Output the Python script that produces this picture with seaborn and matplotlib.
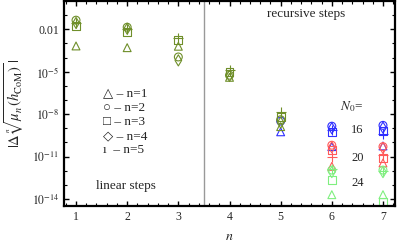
import numpy as np
import pandas as pd
import matplotlib
matplotlib.use("Agg")
import matplotlib.pyplot as plt
import matplotlib.ticker as mticker
import seaborn as sns

# ---- data ----
x_lin = [1, 2, 3, 4, 5]
all_n1 = [6.6e-4, 5.0e-4, 6.3e-4, 4.0e-6, 1.3e-9]
all_n2 = [4.4e-2, 1.4e-2, 1.1e-4, 5.6e-6, 4.0e-9]
all_n3 = [1.6e-2, 6.5e-3, 1.7e-3, 9.3e-6, 6.3e-9]
all_n4 = [2.8e-2, 1.1e-2, 6.3e-5, 5.0e-6, 2.5e-9]
all_n5 = [2.8e-2, 1.0e-2, 2.5e-3, 1.3e-5, 1.3e-8]

x_rec = [5, 6, 7]
n16_n1 = [5.6e-10, 5.0e-11, 5.6e-11]
n16_n2 = [3.2e-9, 1.4e-9, 1.6e-9]
n16_n3 = [np.nan, 5.6e-10, 6.3e-10]
n16_n4 = [np.nan, 1.0e-9, 1.1e-9]
n16_n5 = [np.nan, 7.1e-10, 4.0e-10]

x_rec2 = [6, 7]
n20_n1 = [2.0e-12, 3.5e-12]
n20_n2 = [6.3e-11, 5.0e-11]
n20_n3 = [2.8e-11, 7.9e-12]
n20_n4 = [4.5e-11, 4.0e-11]
n20_n5 = [1.0e-11, 1.3e-11]

n24_n1 = [2.0e-14, 2.0e-14]
n24_n2 = [1.1e-12, 1.1e-12]
n24_n3 = [2.2e-13, 6.3e-15]
n24_n4 = [7.9e-13, 7.9e-13]
n24_n5 = [1.3e-12, 1.0e-12]

ytick_vals = [1e-2, 1e-5, 1e-8, 1e-11, 1e-14]
ytick_labels = ["0.01", r"$10^{-5}$", r"$10^{-8}$", r"$10^{-11}$", r"$10^{-14}$"]
n0_labels = ["16", "20", "24"]

# ---- build table ----
rows = []
def add(xs, groups, g):
    for k, vals in enumerate(groups, start=1):
        for xv, v in zip(xs, vals):
            if not np.isnan(v):
                rows.append(dict(x=xv, val=v, n=f"n={k}", grp=g))

add(x_rec, [n16_n1, n16_n2, n16_n3, n16_n4, n16_n5], "16")
add(x_rec2, [n20_n1, n20_n2, n20_n3, n20_n4, n20_n5], "20")
add(x_rec2, [n24_n1, n24_n2, n24_n3, n24_n4, n24_n5], "24")
add(x_lin, [all_n1, all_n2, all_n3, all_n4, all_n5], "all")
df = pd.DataFrame(rows)

palette = {"16": "#2f2fff", "20": "#ff5a5a", "24": "#7fef7f", "all": "#6f8f2a"}
markers = {"n=1": "^", "n=2": "o", "n=3": "s", "n=4": "d"}

sns.set_style("ticks")
plt.rcParams["font.family"] = ["Liberation Serif", "DejaVu Serif"]
plt.rcParams["mathtext.fontset"] = "stix"

fig = plt.figure(figsize=(3.99, 2.45), dpi=100)
ax = fig.add_axes([64/399, 1-206/245, (395-64)/399, (206-1)/245])

filled = df[df["n"] != "n=5"]
lines = df[df["n"] == "n=5"]
order = ["16", "20", "24", "all"]
for g in order:
    sub = filled[filled["grp"] == g]
    sns.scatterplot(data=sub, x="x", y="val", style="n", markers=markers,
                    color=palette[g], s=32, legend=False, ax=ax, linewidth=0.8)
    coll = ax.collections[-1]
    fc = coll.get_facecolors()
    coll.set_edgecolors(fc)
    coll.set_facecolors("none")
    subl = lines[lines["grp"] == g]
    sns.scatterplot(data=subl, x="x", y="val", marker="+", color=palette[g],
                    s=45, legend=False, ax=ax, linewidth=0.8)

ax.set_yscale("log")
ax.set_xlim(0.765, 7.235)
ax.set_ylim(10**-14.5, 1.0)
ax.axvline(3.5, color="#999999", lw=1.0)

ax.set_xticks(range(1, 8))
ax.xaxis.set_minor_locator(mticker.MultipleLocator(0.2))
ax.set_yticks(ytick_vals)
ax.set_yticklabels(ytick_labels)
ax.yaxis.set_minor_locator(mticker.LogLocator(base=10, subs=[1.0], numticks=30))
ax.yaxis.set_minor_formatter(mticker.NullFormatter())
ax.tick_params(which="both", direction="in", top=True, right=True, labelsize=8.5, color="black")
ax.tick_params(which="major", length=3.5, width=1.0)
ax.tick_params(which="minor", length=2, width=0.8)
for sp in ax.spines.values():
    sp.set_linewidth(1.6)
    sp.set_color("black")

ax.set_xlabel(r"$n$", fontsize=10, labelpad=5)
ax.set_ylabel(r"$|\Delta\,\sqrt[n]{\mu_n\,(h_{\rm CoM})}\,|$", fontsize=10.5, labelpad=4)

# annotations
ax.text(5.5, 10**-0.95, "recursive steps", fontsize=9.5, ha="center", va="center")
ax.text(1.98, 10**-13.1, "linear steps", fontsize=9.5, ha="center", va="center")
leg = ["\u25b3 \u2013 n=1", "\u25cb \u2013 n=2", "\u25a1 \u2013 n=3", "\u25c7 \u2013 n=4", "\u0131  \u2013 n=5"]
for i, t in enumerate(leg):
    ax.text(1.53, 10**(-6.6 - i*0.99), t, fontsize=9.5, ha="left", va="center",
            family=["Liberation Serif", "DejaVu Serif", "DejaVu Sans"])
ax.text(6.38, 10**-7.45, r"$N_0$=", fontsize=9.5, ha="center", va="center")
for lab, yv in zip(n0_labels, [10**-9.1, 10**-11.1, 10**-12.9]):
    ax.text(6.5, yv, lab, fontsize=9, ha="center", va="center")

fig.savefig("out.png", dpi=100)
